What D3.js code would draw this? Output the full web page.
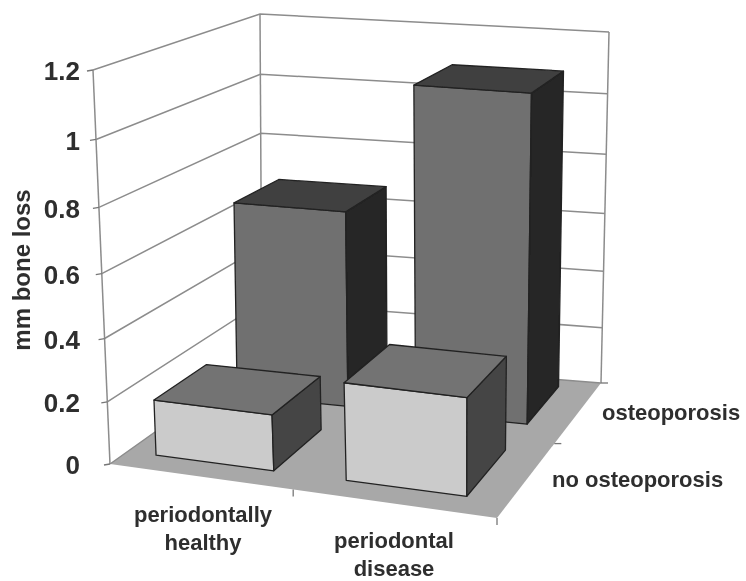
<!DOCTYPE html>
<html>
<head>
<meta charset="utf-8">
<script src="https://cdn.jsdelivr.net/npm/d3@7"></script>
<style>
  html, body { margin: 0; background: #fff; }
  text { font-family: "Liberation Sans", Arial, sans-serif; font-weight: bold; fill: #2e2e2e; }
</style>
</head>
<body>
<div id="chart"></div>
<script>
const categories = ["periodontally healthy", "periodontal disease"];
const categoryLines = [["periodontally", "healthy"], ["periodontal", "disease"]];
const seriesNames = ["osteoporosis", "no osteoporosis"];
const osteoporosis = [0.66, 1.08];
const noOsteoporosis = [0.18, 0.31];
const yTicks = [0, 0.2, 0.4, 0.6, 0.8, 1, 1.2];

const width = 746, height = 581;

const svg = d3.select("#chart").append("svg")
  .attr("width", width)
  .attr("height", height);

// slight softness, the reference is a scanned figure
svg.append("defs").append("filter").attr("id", "soft")
  .append("feGaussianBlur").attr("stdDeviation", 0.7);

const root = svg.append("g").attr("filter", "url(#soft)");

// corners of the chart box in the picture: front-left, front-right, back-right, back-left
const floorQuad = [[110, 464], [497, 518], [601, 383], [262, 356]];
const topQuad = [[93, 70], [501, 108], [609, 32], [260, 14]];

// unit square to quad homography
function homography(q) {
  const [[x0, y0], [x1, y1], [x2, y2], [x3, y3]] = q;
  const dx1 = x1 - x2, dx2 = x3 - x2, sx = x0 - x1 + x2 - x3;
  const dy1 = y1 - y2, dy2 = y3 - y2, sy = y0 - y1 + y2 - y3;
  const den = dx1 * dy2 - dx2 * dy1;
  const g = (sx * dy2 - dx2 * sy) / den;
  const h = (dx1 * sy - sx * dy1) / den;
  const a = x1 - x0 + g * x1, b = x3 - x0 + h * x3;
  const d = y1 - y0 + g * y1, e = y3 - y0 + h * y3;
  return (u, v) => {
    const w = g * u + h * v + 1;
    return [(a * u + b * v + x0) / w, (d * u + e * v + y0) / w];
  };
}
const onFloor = homography(floorQuad);
const onTop = homography(topQuad);

const y = d3.scaleLinear().domain([0, 1.2]).range([0, 1]);
const xBand = d3.scaleBand().domain(categories).range([0, 1])
  .paddingInner(0.377).paddingOuter(0.1865).align(0.41);
// depth runs from the front (no osteoporosis) to the back
const zBand = d3.scaleBand().domain(["no osteoporosis", "osteoporosis"]).range([0, 1])
  .paddingInner(0.385).paddingOuter(0.154).align(0.62);

// the original is flatter along x than its corners suggest, and the
// vertical is foreshortened a little towards the floor
const horizontalWarp = 0.15, verticalPersp = 0.07;
function project(u0, val, v) {
  const u = u0 + horizontalWarp * u0 * (1 - u0);
  const f = onFloor(u, v), t = onTop(u, v), k0 = y(val);
  const k = k0 / (1 + verticalPersp * (1 - k0));
  return [f[0] + (t[0] - f[0]) * k, f[1] + (t[1] - f[1]) * k];
}

const line = d3.line();
const gridColor = "#8c8c8c";

// floor
root.append("path")
  .attr("d", line([[0, 0], [1, 0], [1, 1], [0, 1]].map(c => project(c[0], 0, c[1]))) + "Z")
  .attr("fill", "#a8a8a8");

// walls: grid on the left and back walls
root.append("g").selectAll("path")
  .data(yTicks)
  .join("path")
  .attr("d", t => line([project(0, t, 0), project(0, t, 1), project(1, t, 1)]))
  .attr("fill", "none")
  .attr("stroke", gridColor)
  .attr("stroke-width", 1.5);

root.append("g").selectAll("path")
  .data([[0, 0], [0, 1], [1, 1]])
  .join("path")
  .attr("d", c => line([project(c[0], 0, c[1]), project(c[0], 1.2, c[1])]))
  .attr("fill", "none")
  .attr("stroke", gridColor)
  .attr("stroke-width", 1.5);

// tick marks
const tickColor = "#777";
root.append("g").selectAll("line")
  .data(yTicks)
  .join("line")
  .attr("x1", t => project(0, t, 0)[0] - 6)
  .attr("x2", t => project(0, t, 0)[0])
  .attr("y1", t => project(0, t, 0)[1] + 1)
  .attr("y2", t => project(0, t, 0)[1])
  .attr("stroke", tickColor)
  .attr("stroke-width", 1.3);

root.append("g").selectAll("line")
  .data([0.48, 1])
  .join("line")
  .attr("x1", u => project(u, 0, 0)[0])
  .attr("x2", u => project(u, 0, 0)[0])
  .attr("y1", u => project(u, 0, 0)[1])
  .attr("y2", u => project(u, 0, 0)[1] + 7)
  .attr("stroke", tickColor)
  .attr("stroke-width", 1.3);

root.append("g").selectAll("line")
  .data([0.5, 1])
  .join("line")
  .attr("x1", v => project(1, 0, v)[0])
  .attr("x2", v => project(1, 0, v)[0] + 7)
  .attr("y1", v => project(1, 0, v)[1])
  .attr("y2", v => project(1, 0, v)[1])
  .attr("stroke", tickColor)
  .attr("stroke-width", 1.3);

// bars, back row first so the front row covers it
const shades = {
  "osteoporosis": { front: "#6f6f6f", top: "#3f3f3f", side: "#252525" },
  "no osteoporosis": { front: "#cbcbcb", top: "#737373", side: "#454545" }
};
const bars = [];
categories.forEach((c, i) => bars.push({ cat: c, series: "osteoporosis", value: osteoporosis[i] }));
categories.forEach((c, i) => bars.push({ cat: c, series: "no osteoporosis", value: noOsteoporosis[i] }));

const barG = root.append("g").selectAll("g")
  .data(bars)
  .join("g")
  .attr("stroke", "#222")
  .attr("stroke-width", 1.3)
  .attr("stroke-linejoin", "round");

function barFace(d, face) {
  const x0 = xBand(d.cat), x1 = x0 + xBand.bandwidth();
  const z0 = zBand(d.series), z1 = z0 + zBand.bandwidth();
  const v = d.value;
  const pts = {
    front: [[x0, 0, z0], [x1, 0, z0], [x1, v, z0], [x0, v, z0]],
    side: [[x1, 0, z0], [x1, 0, z1], [x1, v, z1], [x1, v, z0]],
    top: [[x0, v, z0], [x1, v, z0], [x1, v, z1], [x0, v, z1]]
  }[face];
  return line(pts.map(p => project(p[0], p[1], p[2]))) + "Z";
}
["front", "side", "top"].forEach(face => {
  barG.append("path")
    .attr("d", d => barFace(d, face))
    .attr("fill", d => shades[d.series][face]);
});

// y labels
root.append("g").selectAll("text")
  .data(yTicks)
  .join("text")
  .attr("x", 80)
  .attr("y", t => project(0, t, 0)[1] + 1)
  .attr("dy", "0.36em")
  .attr("text-anchor", "end")
  .attr("font-size", 26)
  .text(t => d3.format("")(t));

root.append("text")
  .attr("transform", "translate(30,270) rotate(-90)")
  .attr("text-anchor", "middle")
  .attr("font-size", 24)
  .text("mm bone loss");

// category labels
const catX = [203, 394], catY = [522, 548];
categoryLines.forEach((lines, i) => {
  lines.forEach((s, j) => {
    root.append("text")
      .attr("x", catX[i])
      .attr("y", catY[i] + j * 28)
      .attr("text-anchor", "middle")
      .attr("font-size", 22)
      .text(s);
  });
});

// series labels
const seriesX = [602, 552], seriesY = [420, 487];
seriesNames.forEach((s, i) => {
  root.append("text")
    .attr("x", seriesX[i])
    .attr("y", seriesY[i])
    .attr("font-size", 22)
    .text(s);
});
</script>
</body>
</html>
